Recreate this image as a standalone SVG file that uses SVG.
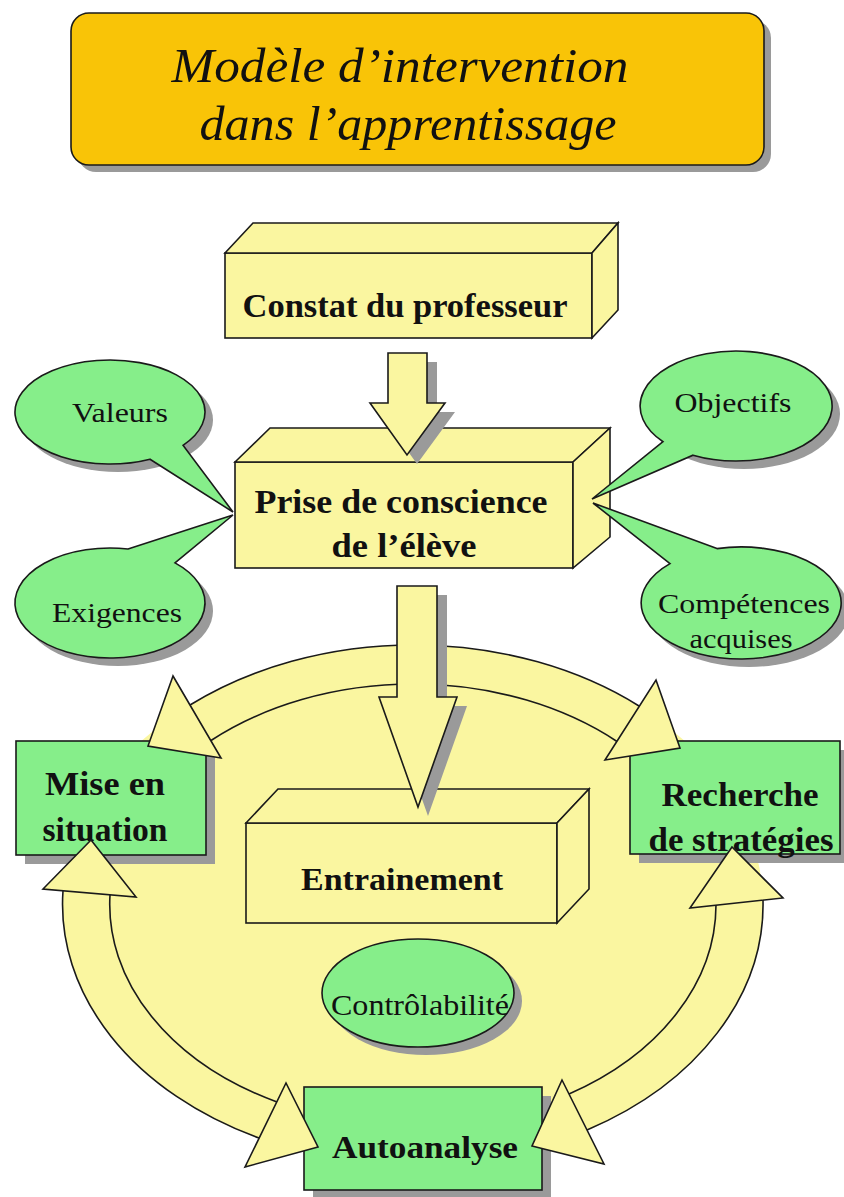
<svg xmlns="http://www.w3.org/2000/svg" width="844" height="1197" viewBox="0 0 844 1197">
<style>
.ln{stroke:#1a1a1a;stroke-width:1.6;stroke-linejoin:miter}
.yl{fill:#FAF6A0}
.gr{fill:#86EE8A}
.sh{fill:#9a9a9a}
.arc{fill:none;stroke:#1a1a1a;stroke-width:1.6}
.t{font-family:"Liberation Serif","Times New Roman",serif;fill:#111;text-anchor:middle}
.b{font-weight:bold}
</style>
<rect width="844" height="1197" fill="#ffffff"/>

<g id="title">
<rect class="sh" x="78" y="20" width="693" height="152" rx="18"/>
<rect x="71" y="13" width="693" height="152" rx="18" fill="#F9C407" class="ln"/>
<text class="t" x="400" y="82" font-size="48" font-style="italic" textLength="457" lengthAdjust="spacingAndGlyphs">Modèle d’intervention</text>
<text class="t" x="408" y="140" font-size="48" font-style="italic" textLength="417" lengthAdjust="spacingAndGlyphs">dans l’apprentissage</text>
</g>

<g id="cycle">
<ellipse class="yl" cx="413" cy="905" rx="350" ry="260"/>
</g>

<g id="constat">
<rect class="yl ln" x="225" y="253" width="367" height="85"/>
<polygon class="yl ln" points="225,253 253,223 618,223 592,253"/>
<polygon class="yl ln" points="592,253 618,223 618,310 592,338"/>
<text class="t b" x="405" y="317" font-size="33" textLength="325" lengthAdjust="spacingAndGlyphs">Constat du professeur</text>
</g>

<g id="prise">
<rect class="yl ln" x="235" y="462" width="338" height="106"/>
<polygon class="yl ln" points="235,462 270,428 610,428 573,462"/>
<polygon class="yl ln" points="573,462 610,428 610,537 573,568"/>
<text class="t b" x="401" y="513" font-size="34" textLength="293" lengthAdjust="spacingAndGlyphs">Prise de conscience</text>
<text class="t b" x="404" y="557" font-size="34" textLength="145" lengthAdjust="spacingAndGlyphs">de l’élève</text>
</g>

<g id="valeurs">
<ellipse class="sh" cx="118" cy="420" rx="95" ry="52"/>
<path class="gr ln" d="M150,459.2 L233,512 L183,445.3 A95 52 0 1 0 150,459.2 Z"/>
<text class="t" x="120" y="422" font-size="27" textLength="96" lengthAdjust="spacingAndGlyphs">Valeurs</text>
</g>

<g id="exigences">
<ellipse class="sh" cx="118" cy="611" rx="95" ry="55"/>
<path class="gr ln" d="M128,549 L233,515 L175,562.9 A95 55 0 1 1 128,549 Z"/>
<text class="t" x="117" y="622" font-size="27" textLength="130" lengthAdjust="spacingAndGlyphs">Exigences</text>
</g>

<g id="objectifs">
<ellipse class="sh" cx="744" cy="414" rx="96" ry="55"/>
<path class="gr ln" d="M663,441.7 L592,499 L693,455.2 A96 55 0 1 0 663,441.7 Z"/>
<text class="t" x="733" y="412" font-size="27" textLength="117" lengthAdjust="spacingAndGlyphs">Objectifs</text>
</g>

<g id="competences">
<ellipse class="sh" cx="749" cy="611" rx="100" ry="56"/>
<path class="gr ln" d="M717,548.6 L593,503 L670,563.6 A100 56 0 1 0 717,548.6 Z"/>
<text class="t" x="744" y="613" font-size="27" textLength="172" lengthAdjust="spacingAndGlyphs">Compétences</text>
<text class="t" x="741" y="648" font-size="27" textLength="103" lengthAdjust="spacingAndGlyphs">acquises</text>
</g>

<g id="entrainement">
<rect class="yl ln" x="246" y="823" width="311" height="100"/>
<polygon class="yl ln" points="246,823 278,789 589,789 557,823"/>
<polygon class="yl ln" points="557,823 589,789 589,889 557,923"/>
<text class="t b" x="402" y="890" font-size="32" textLength="202" lengthAdjust="spacingAndGlyphs">Entrainement</text>
</g>

<g id="controlabilite">
<ellipse class="sh" cx="426" cy="1001" rx="96" ry="54"/>
<ellipse class="gr ln" cx="418" cy="993" rx="96" ry="54"/>
<text class="t" x="420" y="1015" font-size="30" textLength="178" lengthAdjust="spacingAndGlyphs">Contrôlabilité</text>
</g>

<g id="mise">
<rect class="sh" x="25" y="750" width="190" height="114"/>
<rect class="gr ln" x="16" y="741" width="190" height="114"/>
<text class="t b" x="105" y="795" font-size="33" textLength="120" lengthAdjust="spacingAndGlyphs">Mise en</text>
<text class="t b" x="105" y="841" font-size="33" textLength="125" lengthAdjust="spacingAndGlyphs">situation</text>
</g>

<g id="recherche">
<rect class="sh" x="639" y="750" width="210" height="113"/>
<rect class="gr ln" x="630" y="741" width="210" height="113"/>
<text class="t b" x="740" y="806" font-size="33" textLength="157" lengthAdjust="spacingAndGlyphs">Recherche</text>
<text class="t b" x="741" y="851" font-size="33" textLength="185" lengthAdjust="spacingAndGlyphs">de stratégies</text>
</g>

<g id="autoanalyse">
<rect class="sh" x="313" y="1096" width="238" height="103"/>
<rect class="gr ln" x="304" y="1087" width="238" height="103"/>
<text class="t b" x="425" y="1158" font-size="32" textLength="186" lengthAdjust="spacingAndGlyphs">Autoanalyse</text>
</g>

<g id="connectors">
<path class="arc" d="M190,705 A350 260 0 0 1 639,706"/>
<path class="arc" d="M211,740.5 A303 221 0 0 1 617,741.5"/>
<path class="arc" d="M63,891 A350 260 0 0 0 259,1138"/>
<path class="arc" d="M110,895 A303 221 0 0 0 277,1102"/>
<path class="arc" d="M763,900 A350 260 0 0 1 587,1130"/>
<path class="arc" d="M716,905 A303 221 0 0 1 569,1094"/>
<polygon class="yl ln" points="173,676 148,746 221,758"/>
<polygon class="yl ln" points="656,680 680,748 605,760"/>
<polygon class="yl ln" points="91,840 43,889 136,897"/>
<polygon class="yl ln" points="732,847 690,908 783,898"/>
<polygon class="yl ln" points="286,1083 245,1167 318,1147"/>
<polygon class="yl ln" points="562,1080 604,1164 532,1146"/>
<polygon class="sh" points="398,362 437,362 437,412 455,412 417,464 380,412 398,412"/>
<polygon class="yl ln" points="388,353 427,353 427,403 445,403 407,455 370,403 388,403"/>
<polygon class="sh" points="407,595 447,595 447,706 467,706 428,816 389,706 407,706"/>
<polygon class="yl ln" points="397,586 437,586 437,697 457,697 418,807 379,697 397,697"/>
</g>
</svg>
